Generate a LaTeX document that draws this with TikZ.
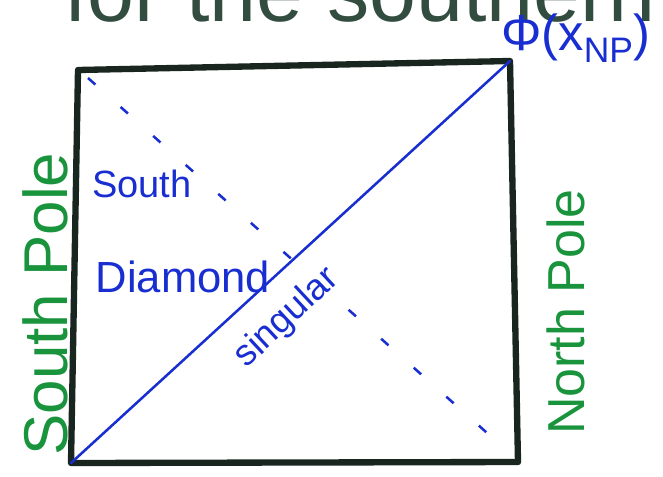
\documentclass[tikz,border=0pt]{standalone}
\usepackage{fontspec}
\setmainfont{Liberation Sans}
\usetikzlibrary{positioning}
\definecolor{PenBlue}{rgb}{0.10, 0.18, 0.82}
\definecolor{PenGreen}{rgb}{0.10, 0.58, 0.24}
\definecolor{PenBlack}{rgb}{0.10, 0.15, 0.12}
\definecolor{PenDark}{rgb}{0.20, 0.30, 0.25}

\begin{document}
\begin{tikzpicture}[
    x=0.025cm, y=-0.025cm,
    frame/.style={draw=PenBlack, line width=4.5pt, line join=round, line cap=round},
    diag/.style={draw=PenBlue, line width=1.8pt, line cap=round},
    dashdiag/.style={draw=PenBlue, line width=1.8pt, dash pattern=on 7pt off 24pt},
    bluetext/.style={text=PenBlue, inner sep=0pt},
    poletext/.style={text=PenGreen, inner sep=0pt, rotate=90},
]
\useasboundingbox (0,0) rectangle (663,476);

% corners of the square
\coordinate (tl) at (78,70);
\coordinate (tr) at (510,61);
\coordinate (br) at (518,462);
\coordinate (bl) at (71,463);

\draw[frame] (tl) -- (tr) -- (br) -- (bl) -- cycle;

% diagonals
\draw[diag] (bl) -- (tr);
\coordinate (d1) at (88,78);
\coordinate (d2) at (495,440);
\draw[dashdiag] (d1) -- (d2);

% heading, cut at the top edge
\node[text=PenDark, font=\fontsize{60}{60}\selectfont, anchor=base] (head) at (360,21) {for the southern};

% labels in the square
\node[bluetext, font=\fontsize{27}{27}\selectfont] (south) at (142,184) {South};
\node[bluetext, font=\fontsize{31}{31}\selectfont] (diamond) at (183,277) {Diamond};
\node[bluetext, font=\fontsize{26}{26}\selectfont, rotate=43] (sing) at (287,318) {singular};
\node[bluetext, font=\fontsize{36}{36}\selectfont] (phi) at (576,38) {Φ(x\textsubscript{NP})};

% poles
\node[poletext, font=\fontsize{44}{44}\selectfont] (spole) at (45,304) {South Pole};
\node[poletext, font=\fontsize{37}{37}\selectfont] (npole) at (566,312) {North Pole};

\end{tikzpicture}
\end{document}
